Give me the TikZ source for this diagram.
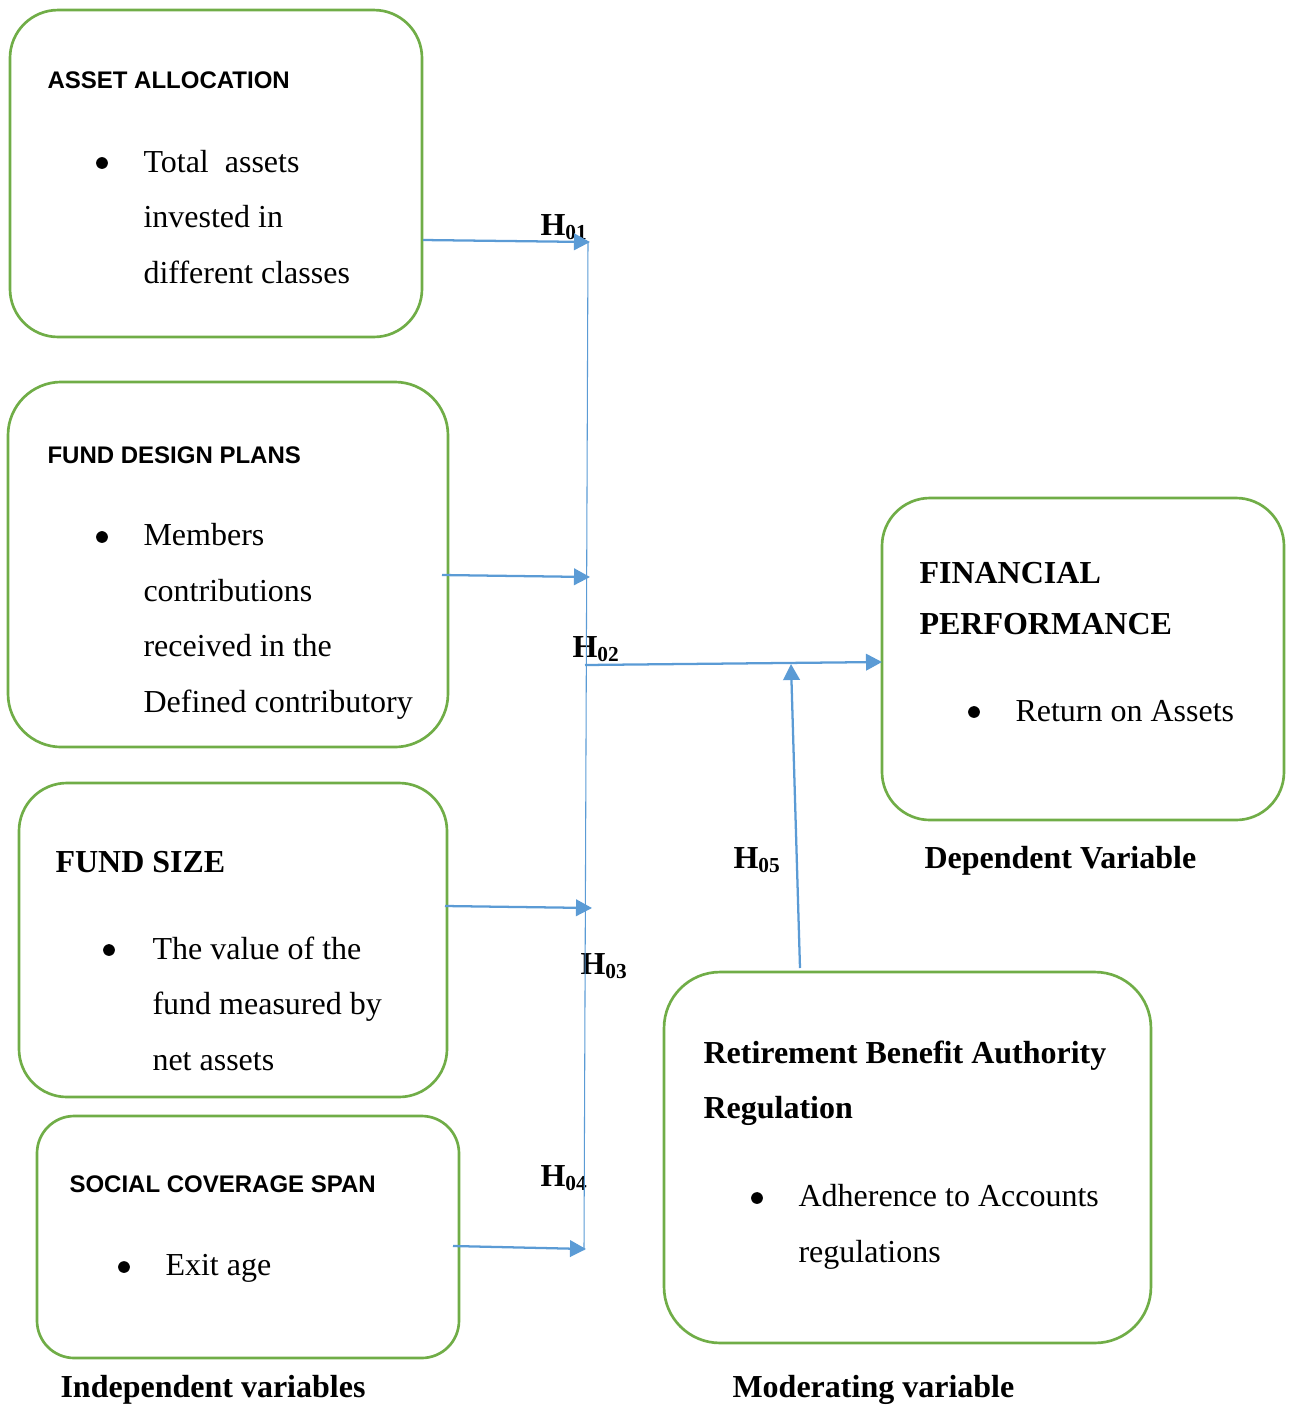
\documentclass[tikz,border=0pt]{standalone}
\usepackage{fontspec}
\setmainfont{Liberation Serif}
\setsansfont{Liberation Sans}
\usepackage{xcolor}
\usetikzlibrary{positioning, arrows.meta}

\definecolor{boxgreen}{HTML}{70AD47}
\definecolor{linkblue}{HTML}{5B9BD5}

\begin{document}
\begin{tikzpicture}[x=0.375pt, y=-0.375pt,
  varbox/.style={draw=boxgreen, line width=1pt, inner sep=0},
  sanshead/.style={anchor=base west, inner sep=0, font=\sffamily\bfseries\fontsize{9}{11}\selectfont},
  serifhead/.style={anchor=base west, inner sep=0, align=left, font=\bfseries\fontsize{12}{18.8}\selectfont},
  itemtext/.style={anchor=base west, inner sep=0, align=left, font=\fontsize{12}{20.8}\selectfont},
  bulletdot/.style={circle, fill, inner sep=0, minimum size=4.4pt},
  hlabel/.style={anchor=base west, inner sep=0, font=\bfseries\fontsize{12}{14}\selectfont},
  caption/.style={anchor=base west, inner sep=0, font=\bfseries\fontsize{12}{14}\selectfont},
  link/.style={draw=linkblue, line width=0.85pt, -{Triangle[length=6pt, width=6.2pt]}},
  busline/.style={draw=linkblue, line width=0.4pt}]

  \useasboundingbox (0,0) rectangle (1292,1405);

  % boxes
  \draw
    (216,173.5) node[varbox, rounded corners=18pt, minimum width=154.5pt, minimum height=122.6pt] (alloc){}
    (228,564.5) node[varbox, rounded corners=20pt, minimum width=165pt, minimum height=136.9pt] (design){}
    (233,940) node[varbox, rounded corners=18pt, minimum width=160.5pt, minimum height=117.75pt] (size){}
    (248,1237) node[varbox, rounded corners=14pt, minimum width=158.25pt, minimum height=90.75pt] (span){}
    (1083,659) node[varbox, rounded corners=18pt, minimum width=150.75pt, minimum height=120.75pt] (perf){}
    (907.5,1157.5) node[varbox, rounded corners=21pt, minimum width=182.6pt, minimum height=139.1pt] (rba){};

  % box texts (multi-line nodes sit on their last baseline)
  \path
    (47,88) node[sanshead] (allocHead){ASSET ALLOCATION}
    (102,163) node[bulletdot] (allocDot){}
    (143,283) node[itemtext] (allocItem){Total\ \ assets\\invested in\\different classes}
    (47,463) node[sanshead] (designHead){FUND DESIGN PLANS}
    (102,537) node[bulletdot] (designDot){}
    (143,712) node[itemtext] (designItem){Members\\contributions\\received in the\\Defined contributory}
    (55,872) node[serifhead] (sizeHead){FUND SIZE}
    (109,950) node[bulletdot] (sizeDot){}
    (152,1070) node[itemtext] (sizeItem){The value of the\\fund measured by\\net assets}
    (69,1192) node[sanshead] (spanHead){SOCIAL COVERAGE SPAN}
    (124,1267) node[bulletdot] (spanDot){}
    (165,1275) node[itemtext] (spanItem){Exit age}
    (919,634) node[serifhead] (perfHead){FINANCIAL\\PERFORMANCE}
    (974,712) node[bulletdot] (perfDot){}
    (1015,721) node[itemtext] (perfItem){Return on Assets}
    (703,1118) node[serifhead, font=\bfseries\fontsize{12}{20.6}\selectfont] (rbaHead){Retirement Benefit Authority\\Regulation}
    (757,1198) node[bulletdot] (rbaDot){}
    (798,1262) node[itemtext] (rbaItem){Adherence to Accounts\\regulations};

  % captions
  \path
    (60,1397) node[caption] (indepCap){Independent variables}
    (924,868) node[caption] (depCap){Dependent Variable}
    (732,1397) node[caption] (modCap){Moderating variable};

  % hypotheses
  \path
    (540,235) node[hlabel] (h1){H\textsubscript{01}}
    (572,657) node[hlabel] (h2){H\textsubscript{02}}
    (580,974) node[hlabel] (h3){H\textsubscript{03}}
    (540,1186) node[hlabel] (h4){H\textsubscript{04}}
    (733,868) node[hlabel] (h5){H\textsubscript{05}};

  % connector points
  \coordinate (busTop) at (588,242);
  \coordinate (busBot) at (584,1250);
  \coordinate (busMid) at (585,665);
  \coordinate (allocOut) at (423,240);
  \coordinate (designOut) at (442,575);
  \coordinate (sizeOut) at (445,906);
  \coordinate (spanOut) at (453,1246);
  \coordinate (allocIn) at (590,242);
  \coordinate (designIn) at (590,577);
  \coordinate (sizeIn) at (592,908);
  \coordinate (spanIn) at (586,1249);
  \coordinate (perfIn) at (882,662);
  \coordinate (rbaOut) at (800,968);
  \coordinate (modIn) at (791,664);

  \draw[busline] (busTop) -- (busBot);
  \begin{scope}[link]
    \draw (allocOut) to (allocIn);
    \draw (designOut) to (designIn);
    \draw (sizeOut) to (sizeIn);
    \draw (spanOut) to (spanIn);
    \draw (busMid) to (perfIn);
    \draw (rbaOut) to (modIn);
  \end{scope}
\end{tikzpicture}
\end{document}
